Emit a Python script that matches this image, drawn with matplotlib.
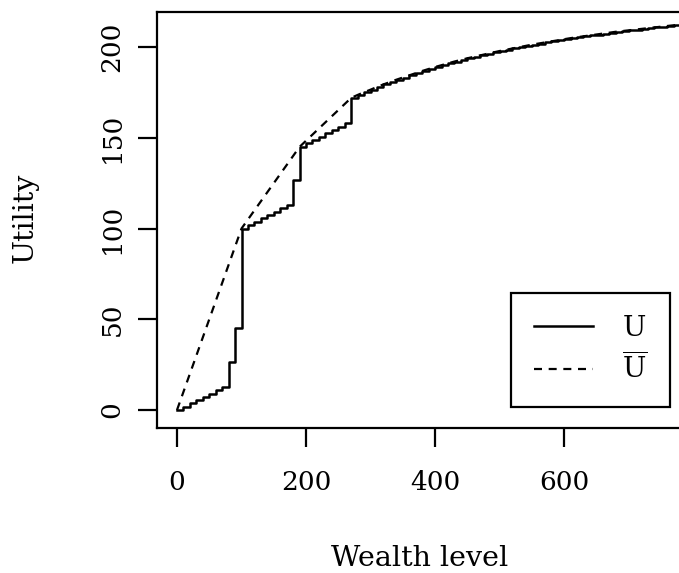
import numpy as np
import matplotlib.pyplot as plt

plt.rcParams['font.family'] = 'DejaVu Serif'
plt.rcParams['mathtext.fontset'] = 'dejavuserif'

# utility of the step function, one value per wealth level (steps of 10)
wealth = np.arange(0, 790, 10)
utility = [
    0.0, 1.8, 3.7, 5.5, 7.3, 9.1, 11.0, 12.8,              # 0 - 70
    26.6, 45.0,                                            # 80, 90
    100.0, 101.9, 103.7, 105.6, 107.4, 109.3, 111.1, 113.0,  # 100 - 170
    127.0, 145.0,                                          # 180, 190
    146.9, 148.7, 150.6, 152.4, 154.3, 156.1, 158.0,       # 200 - 260
    172.0, 173.6, 175.1, 176.5, 178.0, 179.4, 180.7, 182.0,  # 270 - 340
    183.2, 184.4, 185.6, 186.8, 187.9, 189.0, 190.0, 191.0,  # 350 - 420
    192.0, 192.9, 193.8, 194.6, 195.4, 196.2, 197.0, 197.8,  # 430 - 500
    198.5, 199.2, 199.9, 200.6, 201.3, 201.9, 202.5, 203.1,  # 510 - 580
    203.7, 204.3, 204.9, 205.4, 205.9, 206.4, 206.9, 207.4,  # 590 - 660
    207.9, 208.4, 208.8, 209.2, 209.6, 210.0, 210.4, 210.8,  # 670 - 740
    211.2, 211.6, 212.0, 212.3,                            # 750 - 780
]
utility = np.array(utility)

# concave envelope: corners of the big jumps, then the step corners themselves
corner_levels = [0, 100, 190, 270]
tail = wealth > 270
env_x = np.concatenate([corner_levels, wealth[tail]])
env_u = np.concatenate([utility[np.isin(wealth, corner_levels)], utility[tail]])

fig = plt.figure(figsize=(6.79, 5.73), dpi=100)
ax = fig.add_axes([157 / 679, 145 / 573, 540 / 679, 416 / 573])

ax.plot(wealth, utility, drawstyle='steps-post', color='black', lw=1.8, label='U')
ax.plot(env_x, env_u, color='black', lw=1.6, linestyle=(0, (3.6, 3.0)),
        label=r'$\overline{\mathrm{U}}$')

ax.set_xlim(-31, 806)
ax.set_ylim(-9.9, 219.3)
ax.set_xticks([0, 200, 400, 600])
ax.set_yticks([0, 50, 100, 150, 200])
ax.set_yticklabels(['0', '50', '100', '150', '200'], rotation=90, va='center')

for s in ax.spines.values():
    s.set_linewidth(1.6)
ax.tick_params(direction='out', length=13.5, width=1.6, labelsize=19)
ax.tick_params(axis='x', pad=17)
ax.tick_params(axis='y', pad=10)

ax.set_xlabel('Wealth level', fontsize=20.5)
ax.xaxis.label.set_va('center')
ax.xaxis.set_label_coords(0.487, -0.3125)
ax.set_ylabel('Utility', fontsize=20.5)
ax.yaxis.label.set_va('center')
ax.yaxis.set_label_coords(-0.244, 0.505)

leg = ax.legend(loc='lower right', bbox_to_anchor=(670 / 679, 166.3 / 573),
                bbox_transform=fig.transFigure, fancybox=False, framealpha=1,
                edgecolor='black', borderaxespad=0, handlelength=2.15,
                handletextpad=1.05, borderpad=0.8, labelspacing=0.4, fontsize=20)
leg.get_frame().set_linewidth(1.6)

fig.savefig('out.png', dpi=100)
